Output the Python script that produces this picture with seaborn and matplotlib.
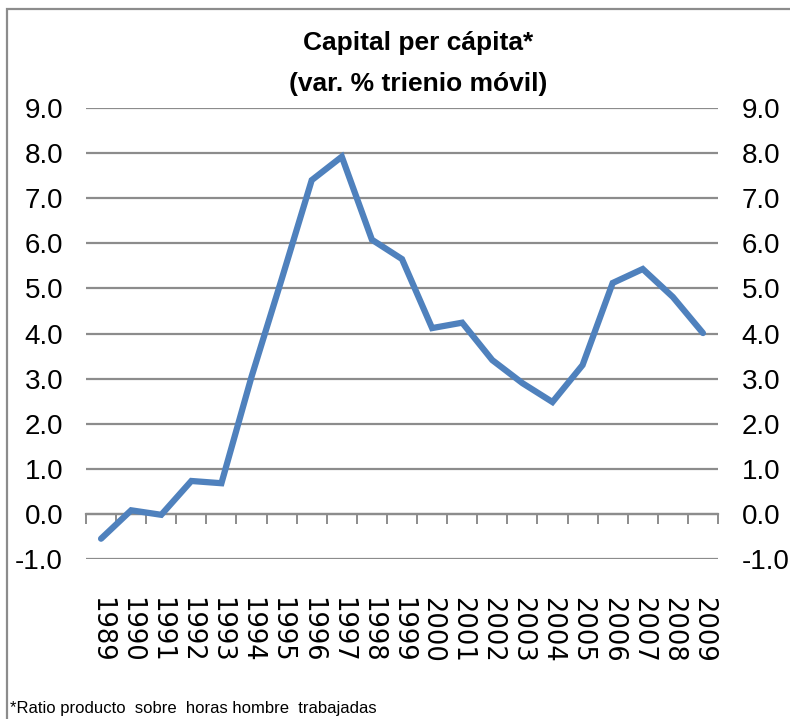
import matplotlib
matplotlib.use("Agg")
import matplotlib.pyplot as plt
import seaborn as sns
import pandas as pd
from matplotlib.patches import Rectangle
from matplotlib.ticker import FixedLocator

years = ["1989", "1990", "1991", "1992", "1993", "1994", "1995", "1996", "1997", "1998",
         "1999", "2000", "2001", "2002", "2003", "2004", "2005", "2006", "2007", "2008", "2009"]
values = [-0.55, 0.08, -0.02, 0.73, 0.68, 3.04, 5.2, 7.4, 7.92, 6.08,
          5.65, 4.12, 4.24, 3.41, 2.9, 2.48, 3.3, 5.12, 5.43, 4.81, 4.01]
y_ticks = [-1.0, 0.0, 1.0, 2.0, 3.0, 4.0, 5.0, 6.0, 7.0, 8.0, 9.0]

title_line1 = "Capital per cápita*"
title_line2 = "(var. % trienio móvil)"
footnote = "*Ratio producto  sobre  horas hombre  trabajadas"

sns.set_style("white")
sans = ["Liberation Sans", "DejaVu Sans"]
plt.rcParams["font.family"] = sans
plt.rcParams["text.color"] = "black"
plt.rcParams["xtick.color"] = "black"
plt.rcParams["ytick.color"] = "black"

df = pd.DataFrame({"pos": range(len(years)), "year": years, "value": values})

fig = plt.figure(figsize=(7.90, 7.19), dpi=100)
ax = fig.add_axes([86 / 790, 1 - 559 / 719, (718 - 86) / 790, (559 - 108) / 719])

grid_col = "#8c8c8c"
for yv in y_ticks:
    ax.axhline(yv, color=grid_col, lw=1.6, zorder=1)

sns.lineplot(data=df, x="pos", y="value", ax=ax, color="#4F81BD", lw=4.5,
             solid_joinstyle="miter", zorder=3)

ax.set_xlim(-0.5, len(years) - 0.5)
ax.set_ylim(-1.0, 9.0)
ax.set_xlabel("")
ax.set_ylabel("")

for s in ["top", "right", "left"]:
    ax.spines[s].set_visible(False)
ax.spines["bottom"].set_position(("data", 0))
ax.spines["bottom"].set_color(grid_col)
ax.spines["bottom"].set_linewidth(1.6)

ax.set_xticks(list(df["pos"]))
ax.set_xticklabels(years, rotation=-90, family=["DejaVu Sans"], fontsize=18.5)
ax.xaxis.set_minor_locator(FixedLocator([p - 0.5 for p in range(len(years) + 1)]))
ax.tick_params(axis="x", which="major", length=0, pad=60)
ax.tick_params(axis="x", which="minor", length=7, width=1.4, color=grid_col,
               direction="out", bottom=True)

ax.set_yticks(y_ticks)
ax.set_yticklabels([f"{v:.1f}" for v in y_ticks], fontsize=20)
ax.tick_params(axis="y", which="major", length=0, pad=16.5, left=False)

ax2 = ax.twinx()
ax2.set_ylim(ax.get_ylim())
ax2.set_yticks(y_ticks)
ax2.set_yticklabels([f"{v:.1f}" for v in y_ticks], fontsize=20)
ax2.tick_params(axis="y", length=0, pad=17)
for s in ax2.spines.values():
    s.set_visible(False)

fig.text(418 / 790, 1 - 43 / 719, title_line1, ha="center", va="center",
         fontsize=19, fontweight="bold")
fig.text(418 / 790, 1 - 84 / 719, title_line2, ha="center", va="center",
         fontsize=19, fontweight="bold")
fig.text(10 / 790, 1 - 709 / 719, footnote, ha="left", va="center", fontsize=12)

fig.patches.append(Rectangle((7 / 790, -0.1), 1.2, 1.1 - 9 / 719, transform=fig.transFigure,
                             fill=False, edgecolor=grid_col, lw=1.6, zorder=0))

fig.savefig("out.png", dpi=100)
